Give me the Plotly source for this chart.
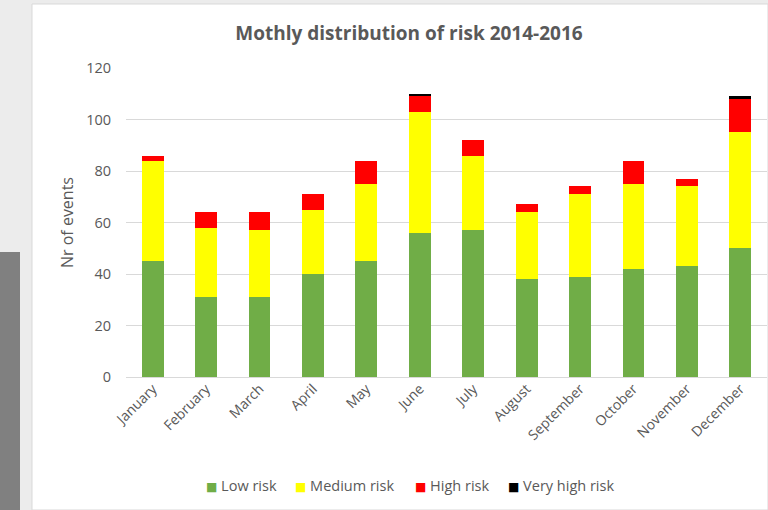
import plotly.graph_objects as go

months = ["January", "February", "March", "April", "May", "June", "July",
          "August", "September", "October", "November", "December"]
low_risk = [45, 31, 31, 40, 45, 56, 57, 38, 39, 42, 43, 50]
medium_risk = [39, 27, 26, 25, 30, 47, 29, 26, 32, 33, 31, 45]
high_risk = [2, 6, 7, 6, 9, 6, 6, 3, 3, 9, 3, 13]
very_high_risk = [0, 0, 0, 0, 0, 1, 0, 0, 0, 0, 0, 1]

series = [
    ("Low risk", low_risk, "#70ad47"),
    ("Medium risk", medium_risk, "#ffff00"),
    ("High risk", high_risk, "#ff0000"),
    ("Very high risk", very_high_risk, "#000000"),
]

W, H = 768, 510
ML, MR, MT, MB = 126, 1, 68, 133
PW, PH = W - ML - MR, H - MT - MB


def px_x(p):
    return (p - ML) / PW


def px_y(p):
    return (H - MB - p) / PH


FONT = "Open Sans, Segoe UI, sans-serif"
TXT = "#595959"

fig = go.Figure()
for name, vals, col in series:
    fig.add_trace(go.Bar(x=months, y=vals, name=name, marker_color=col,
                         marker_line_width=0, showlegend=False))

shapes = [
    # white chart card
    dict(type="rect", xref="paper", yref="paper", layer="below",
         x0=px_x(32), x1=px_x(768), y0=px_y(510), y1=px_y(4),
         fillcolor="white", line=dict(color="#d9d9d9", width=1)),
    # dark side panel
    dict(type="rect", xref="paper", yref="paper", layer="below",
         x0=px_x(0), x1=px_x(20), y0=px_y(512), y1=px_y(252),
         fillcolor="#808080", line=dict(width=0)),
]

# legend row: coloured square + series name
legend_left = [204, 293, 413, 506]
annotations = []
for (name, _, col), lx in zip(series, legend_left):
    annotations.append(dict(
        xref="paper", yref="paper", x=px_x(lx), y=px_y(485),
        xanchor="left", yanchor="middle", showarrow=False,
        text=f"<span style='color:{col};font-family:DejaVu Sans;font-size:12px'>■</span> {name}",
        font=dict(size=14.5, color=TXT, family=FONT)))

fig.update_layout(
    width=W, height=H,
    margin=dict(l=ML, r=MR, t=MT, b=MB),
    barmode="stack",
    bargap=0.59,
    paper_bgcolor="#ececec",
    plot_bgcolor="rgba(0,0,0,0)",
    font=dict(family=FONT, color=TXT, size=12),
    title=dict(text="<b>Mothly distribution of risk 2014-2016</b>",
               x=409 / W, xanchor="center", xref="container",
               y=1 - 33 / H, yanchor="middle", yref="container",
               font=dict(size=19, color=TXT, family=FONT)),
    shapes=shapes,
    annotations=annotations,
    showlegend=False,
    xaxis=dict(tickangle=-45, showgrid=False, showline=False, ticks="",
               tickfont=dict(size=14, color=TXT)),
    yaxis=dict(range=[0, 120], dtick=20, showgrid=True, gridcolor="#d9d9d9",
               gridwidth=1, zeroline=True, zerolinecolor="#d9d9d9",
               zerolinewidth=1, ticks="", ticklabelstandoff=14,
               tickfont=dict(size=14.5, color=TXT),
               title=dict(text="Nr of events", standoff=8,
                          font=dict(size=16, color=TXT))),
)

fig.write_html("out.html")
